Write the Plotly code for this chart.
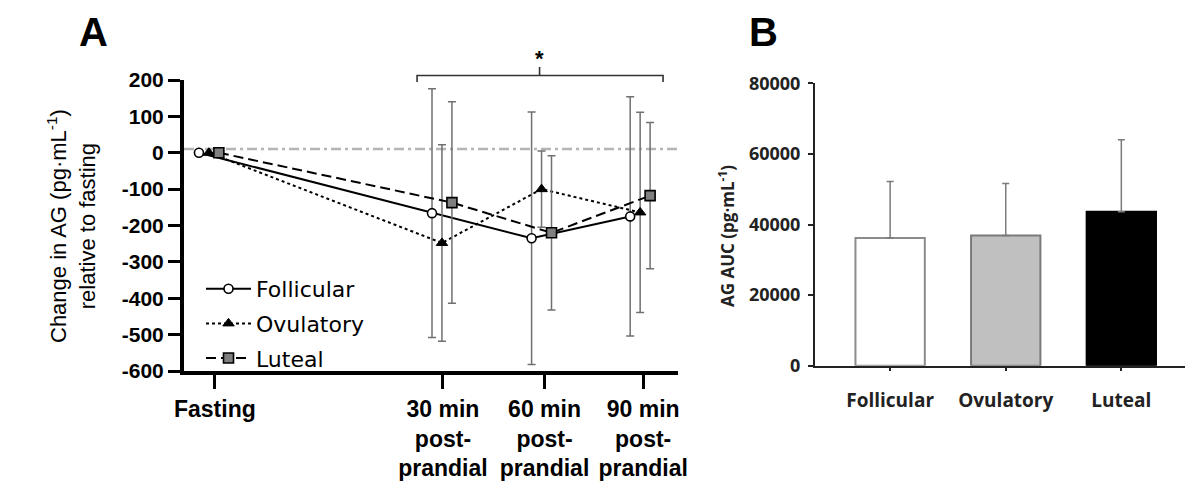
import plotly.graph_objects as go

# ---------------- Data: panel A ----------------
time_labels = ["Fasting", "30 min<br>post-<br>prandial", "60 min<br>post-<br>prandial", "90 min<br>post-<br>prandial"]
tick_pos = [0, 2.29, 3.31, 4.30]          # category positions on the A x-axis
point_pos = [-0.06, 2.28, 3.28, 4.27]     # centre positions of the point clusters
series_offset = [-0.10, 0.0, 0.10]        # dodge for Follicular / Ovulatory / Luteal

follicular_mean = [0, -166, -235, -175]
follicular_sd = [0, 342, 347, 329]
ovulatory_mean = [0, -248, -100, -164]
ovulatory_sd = [0, 270, 105, 275]
luteal_mean = [0, -137, -220, -118]
luteal_sd = [0, 277, 212, 201]

y_ticks_a = [200, 100, 0, -100, -200, -300, -400, -500, -600]
reference_level = 10   # grey dash-dot reference line

# ---------------- Data: panel B ----------------
phases = ["Follicular", "Ovulatory", "Luteal"]
auc_mean = [36200, 36900, 43600]
auc_sd = [16000, 14700, 20400]
y_ticks_b = [0, 20000, 40000, 60000, 80000]

# page offset (body margin) compensation
OFF = 8
W, H = 1193 - OFF, 496 - OFF


def px(x):
    return (x - OFF) / W


def py(y):
    return 1 - (y - OFF) / H


FA = "Liberation Sans, Arial, sans-serif"
FL = "DejaVu Sans, sans-serif"
FB = "Open Sans, Lato, sans-serif"

fig = go.Figure()

series = [
    ("Follicular", follicular_mean, follicular_sd, "solid",
     dict(symbol="circle", size=9, color="white", line=dict(color="black", width=1.6))),
    ("Ovulatory", ovulatory_mean, ovulatory_sd, "dot",
     dict(symbol="triangle-up", size=10, color="black", line=dict(color="black", width=1))),
    ("Luteal", luteal_mean, luteal_sd, "10px,5px",
     dict(symbol="square", size=10, color="#7f7f7f", line=dict(color="black", width=1.6))),
]

for i, (name, mean, sd, dash, marker) in enumerate(series):
    xs = [p + series_offset[i] for p in point_pos]
    fig.add_trace(go.Scatter(
        x=xs, y=mean, name=name, mode="lines+markers",
        line=dict(color="black", width=2, dash=dash),
        marker=marker,
        error_y=dict(type="data", array=sd, visible=True, color="#707070", thickness=1.5, width=4),
        xaxis="x", yaxis="y", legendgroup=name,
    ))

fig.add_trace(go.Bar(
    x=phases, y=auc_mean,
    marker=dict(color=["white", "#c0c0c0", "black"],
                line=dict(color=["#8c8c8c", "#7a7a7a", "black"], width=2)),
    width=0.6,
    error_y=dict(type="data", array=auc_sd, arrayminus=[0, 0, 0], symmetric=False,
                 visible=True, color="#7a7a7a", thickness=1.5, width=3.5),
    xaxis="x2", yaxis="y2", showlegend=False,
))

shapes = [
    dict(type="line", xref="x domain", yref="y", x0=0, x1=1.005, y0=reference_level, y1=reference_level,
         line=dict(color="#b5b5b5", width=2.5, dash="10px,4px,3px,4px"), layer="below"),
    dict(type="path", xref="x", yref="paper",
         path=f"M 2.03 {py(82)} L 2.03 {py(75.5)} L 4.50 {py(75.5)} L 4.50 {py(82)}",
         line=dict(color="#333333", width=1.6)),
    dict(type="line", xref="x", yref="paper", x0=3.26, x1=3.26, y0=py(75.5), y1=py(67),
         line=dict(color="#333333", width=1.6)),
]

annotations = [
    dict(text="<b>*</b>", x=3.26, y=py(58), xref="x", yref="paper", showarrow=False,
         xanchor="center", yanchor="middle", font=dict(family=FA, size=22, color="black")),
    dict(text="<b>A</b>", x=px(94), y=1.0, xref="paper", yref="paper", showarrow=False,
         xanchor="center", yanchor="top", font=dict(family=FA, size=40, color="black")),
    dict(text="<b>B</b>", x=px(763), y=1.0, xref="paper", yref="paper", showarrow=False,
         xanchor="center", yanchor="top", font=dict(family=FA, size=40, color="black")),
    dict(text="Change in AG (pg·mL<sup>-1</sup>)<br>relative to fasting", textangle=-90,
         x=px(71), y=py(226), xref="paper", yref="paper", showarrow=False,
         xanchor="center", yanchor="middle", font=dict(family=FA, size=22, color="black")),
    dict(text="<b>AG AUC (pg·mL<sup>-1</sup>)</b>", textangle=-90,
         x=px(727), y=py(236), xref="paper", yref="paper", showarrow=False,
         xanchor="center", yanchor="middle", font=dict(family=FB, size=17, color="#222222")),
]

fig.update_layout(
    width=W, height=H,
    margin=dict(l=0, r=0, t=0, b=0),
    paper_bgcolor="white", plot_bgcolor="white",
    shapes=shapes, annotations=annotations,
    showlegend=True,
    legend=dict(x=px(201), y=py(268), xanchor="left", yanchor="top",
                font=dict(family=FL, size=22, color="black"),
                bgcolor="rgba(0,0,0,0)", tracegroupgap=3, itemwidth=45),
    xaxis=dict(domain=[px(184), px(678)], range=[-0.31, 4.65], anchor="y",
               tickmode="array", tickvals=tick_pos, ticktext=[f"<b>{t}</b>" for t in time_labels],
               showline=True, linewidth=4, linecolor="black", ticks="outside", ticklen=14,
               tickwidth=3, tickcolor="black", showgrid=False, zeroline=False,
               tickfont=dict(family=FA, size=23, color="black"), automargin=False),
    yaxis=dict(domain=[py(371), py(80)], range=[-600, 200], anchor="x",
               tickmode="array", tickvals=y_ticks_a, ticktext=[f"<b>{v}</b>" for v in y_ticks_a],
               showline=True, linewidth=4, linecolor="black", ticks="outside", ticklen=12,
               tickwidth=3, tickcolor="black", showgrid=False, zeroline=False,
               tickfont=dict(family=FA, size=21, color="black"), automargin=False),
    xaxis2=dict(domain=[px(815), 1.0], range=[-0.65, 2.62], anchor="y2", type="category",
                showline=True, linewidth=2, linecolor="#222222", ticks="outside", ticklen=3,
                tickwidth=2, tickcolor="#222222", showgrid=False, zeroline=False,
                ticklabelstandoff=13,
                tickfont=dict(family=FB, size=19, color="#222222", weight="bold"), automargin=False),
    yaxis2=dict(domain=[py(365.7), py(83.3)], range=[0, 80000], anchor="x2",
                tickmode="array", tickvals=y_ticks_b, ticktext=[str(v) for v in y_ticks_b],
                showline=True, linewidth=2, linecolor="#222222", ticks="outside", ticklen=5,
                tickwidth=2, tickcolor="#222222", showgrid=False, zeroline=False,
                ticklabelstandoff=4,
                tickfont=dict(family=FB, size=18, color="#222222", weight="bold"),
                automargin=False),
)

fig.write_html("out.html")
